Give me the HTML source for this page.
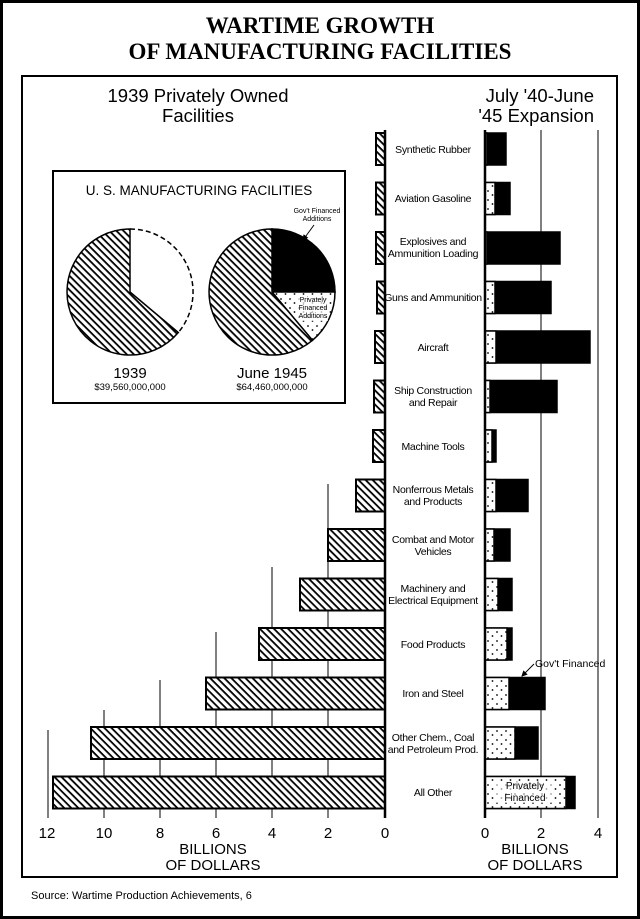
<!DOCTYPE html>
<html><head><meta charset="utf-8"><style>
html,body{margin:0;padding:0;background:#fff}
svg{display:block}
</style></head><body>
<svg width="640" height="919" viewBox="0 0 640 919" xmlns="http://www.w3.org/2000/svg" font-family="Liberation Sans, sans-serif">
<defs>
<pattern id="h" width="5" height="5" patternUnits="userSpaceOnUse" patternTransform="rotate(45)">
<rect width="5" height="5" fill="#fff"/><rect x="0" y="0" width="5" height="1.8" fill="#000"/>
</pattern>
<pattern id="d" width="9" height="9" patternUnits="userSpaceOnUse">
<rect width="9" height="9" fill="#fff"/><circle cx="2" cy="2" r="0.9" fill="#000"/><circle cx="6.5" cy="6" r="0.9" fill="#000"/>
</pattern>
<marker id="ar" markerWidth="6" markerHeight="6" refX="5" refY="3" orient="auto"><path d="M0,0 L6,3 L0,6 Z" fill="#000"/></marker>
</defs>
<rect x="1.5" y="1.5" width="637" height="916" fill="#fff" stroke="#000" stroke-width="3"/>
<text x="320" y="33" text-anchor="middle" font-family="Liberation Serif, serif" font-weight="bold" font-size="23">WARTIME GROWTH</text>
<text x="320" y="59" text-anchor="middle" font-family="Liberation Serif, serif" font-weight="bold" font-size="23">OF MANUFACTURING FACILITIES</text>
<rect x="22" y="76" width="595" height="801" fill="none" stroke="#000" stroke-width="2"/>
<text x="198" y="102" text-anchor="middle" font-size="18.5">1939 Privately Owned</text>
<text x="198" y="122" text-anchor="middle" font-size="18.5">Facilities</text>
<text x="594" y="102" text-anchor="end" font-size="18.5">July '40-June</text>
<text x="594" y="122" text-anchor="end" font-size="18.5">'45 Expansion</text>

<g stroke="#000" stroke-width="1">
<line x1="328" y1="484" x2="328" y2="818"/>
<line x1="272" y1="567" x2="272" y2="818"/>
<line x1="216" y1="632" x2="216" y2="818"/>
<line x1="160" y1="680" x2="160" y2="818"/>
<line x1="104" y1="710" x2="104" y2="818"/>
<line x1="48" y1="730" x2="48" y2="818"/>
<line x1="541" y1="130" x2="541" y2="818"/>
<line x1="598" y1="130" x2="598" y2="818"/>
</g>

<g stroke="#000" stroke-width="2" fill="url(#h)">
<rect x="376" y="133" width="9" height="32"/>
<rect x="376" y="182.5" width="9" height="32"/>
<rect x="376" y="232" width="9" height="32"/>
<rect x="377" y="281.5" width="8" height="32"/>
<rect x="375" y="331" width="10" height="32"/>
<rect x="374" y="380.5" width="11" height="32"/>
<rect x="373" y="430" width="12" height="32"/>
<rect x="356" y="479.5" width="29" height="32"/>
<rect x="328" y="529" width="57" height="32"/>
<rect x="300" y="578.5" width="85" height="32"/>
<rect x="259" y="628" width="126" height="32"/>
<rect x="206" y="677.5" width="179" height="32"/>
<rect x="91" y="727" width="294" height="32"/>
<rect x="53" y="776.5" width="332" height="32"/>
</g>

<g stroke="#000" stroke-width="1.5">
<rect x="485" y="133" width="21" height="32" fill="#000"/><rect x="485" y="133" width="2" height="32" fill="url(#d)"/>
<rect x="485" y="182.5" width="25" height="32" fill="#000"/><rect x="485" y="182.5" width="10" height="32" fill="url(#d)"/>
<rect x="485" y="232" width="75" height="32" fill="#000"/><rect x="485" y="232" width="2" height="32" fill="url(#d)"/>
<rect x="485" y="281.5" width="66" height="32" fill="#000"/><rect x="485" y="281.5" width="10" height="32" fill="url(#d)"/>
<rect x="485" y="331" width="105" height="32" fill="#000"/><rect x="485" y="331" width="11" height="32" fill="url(#d)"/>
<rect x="485" y="380.5" width="72" height="32" fill="#000"/><rect x="485" y="380.5" width="5" height="32" fill="url(#d)"/>
<rect x="485" y="430" width="11" height="32" fill="#000"/><rect x="485" y="430" width="7" height="32" fill="url(#d)"/>
<rect x="485" y="479.5" width="43" height="32" fill="#000"/><rect x="485" y="479.5" width="11" height="32" fill="url(#d)"/>
<rect x="485" y="529" width="25" height="32" fill="#000"/><rect x="485" y="529" width="9" height="32" fill="url(#d)"/>
<rect x="485" y="578.5" width="27" height="32" fill="#000"/><rect x="485" y="578.5" width="13" height="32" fill="url(#d)"/>
<rect x="485" y="628" width="27" height="32" fill="#000"/><rect x="485" y="628" width="22" height="32" fill="url(#d)"/>
<rect x="485" y="677.5" width="60" height="32" fill="#000"/><rect x="485" y="677.5" width="24" height="32" fill="url(#d)"/>
<rect x="485" y="727" width="53" height="32" fill="#000"/><rect x="485" y="727" width="30" height="32" fill="url(#d)"/>
<rect x="485" y="776.5" width="90" height="32" fill="#000"/><rect x="485" y="776.5" width="81" height="32" fill="url(#d)"/>
</g>
<rect x="496" y="781" width="58" height="22" fill="#fff" opacity="0.6"/>
<text x="525" y="789" text-anchor="middle" font-size="10">Privately</text>
<text x="525" y="801" text-anchor="middle" font-size="10">Financed</text>
<text x="535" y="667" font-size="10.5">Gov't Financed</text>
<line x1="534" y1="664" x2="522" y2="676" stroke="#000" stroke-width="1" marker-end="url(#ar)"/>

<line x1="385" y1="130" x2="385" y2="818" stroke="#000" stroke-width="2.5"/>
<line x1="485" y1="130" x2="485" y2="818" stroke="#000" stroke-width="2.5"/>

<g font-size="10.5" text-anchor="middle" letter-spacing="-0.3">
<text x="433" y="153">Synthetic Rubber</text>
<text x="433" y="202">Aviation Gasoline</text>
<text x="433" y="245">Explosives and</text><text x="433" y="257">Ammunition Loading</text>
<text x="433" y="301">Guns and Ammunition</text>
<text x="433" y="351">Aircraft</text>
<text x="433" y="394">Ship Construction</text><text x="433" y="406">and Repair</text>
<text x="433" y="450">Machine Tools</text>
<text x="433" y="493">Nonferrous Metals</text><text x="433" y="505">and Products</text>
<text x="433" y="543">Combat and Motor</text><text x="433" y="555">Vehicles</text>
<text x="433" y="592">Machinery and</text><text x="433" y="604">Electrical Equipment</text>
<text x="433" y="648">Food Products</text>
<text x="433" y="697">Iron and Steel</text>
<text x="433" y="741">Other Chem., Coal</text><text x="433" y="753">and Petroleum Prod.</text>
<text x="433" y="796">All Other</text>
</g>

<g font-size="15" text-anchor="middle">
<text x="47" y="838">12</text><text x="104" y="838">10</text><text x="160" y="838">8</text>
<text x="216" y="838">6</text><text x="272" y="838">4</text><text x="328" y="838">2</text>
<text x="385" y="838">0</text>
<text x="485" y="838">0</text><text x="541" y="838">2</text><text x="598" y="838">4</text>
<text x="213" y="854">BILLIONS</text><text x="213" y="870">OF DOLLARS</text>
<text x="535" y="854">BILLIONS</text><text x="535" y="870">OF DOLLARS</text>
</g>
<text x="31" y="899" font-size="11">Source: Wartime Production Achievements, 6</text>

<rect x="53" y="171" width="292" height="232" fill="#fff" stroke="#000" stroke-width="2"/>
<text x="199" y="195" text-anchor="middle" font-size="13.5">U. S. MANUFACTURING FACILITIES</text>
<path d="M130,292 L130,229 A63,63 0 1 0 178.3,332.5 Z" fill="url(#h)" stroke="#000" stroke-width="1.5"/>
<path d="M130,229 A63,63 0 0 1 178.3,332.5" fill="none" stroke="#000" stroke-width="1.5" stroke-dasharray="5,3"/>
<path d="M272,292 L272,229 A63,63 0 0 1 335,292 Z" fill="#000" stroke="#000" stroke-width="1.5"/>
<path d="M272,292 L335,292 A63,63 0 0 1 312.5,340.3 Z" fill="url(#d)" stroke="#000" stroke-width="1.5"/>
<path d="M272,292 L312.5,340.3 A63,63 0 1 1 272,229 Z" fill="url(#h)" stroke="#000" stroke-width="1.5"/>
<text x="317" y="213" text-anchor="middle" font-size="7">Gov't Financed</text>
<text x="317" y="221" text-anchor="middle" font-size="7">Additions</text>
<line x1="314" y1="225" x2="303" y2="240" stroke="#000" stroke-width="1" marker-end="url(#ar)"/>
<rect x="298" y="296" width="30" height="25" fill="#fff" opacity="0.7"/>
<text x="313" y="302" text-anchor="middle" font-size="7">Privately</text>
<text x="313" y="310" text-anchor="middle" font-size="7">Financed</text>
<text x="313" y="318" text-anchor="middle" font-size="7">Additions</text>
<text x="130" y="378" text-anchor="middle" font-size="15">1939</text>
<text x="130" y="390" text-anchor="middle" font-size="9.5">$39,560,000,000</text>
<text x="272" y="378" text-anchor="middle" font-size="15">June 1945</text>
<text x="272" y="390" text-anchor="middle" font-size="9.5">$64,460,000,000</text>
</svg>
</body></html>
